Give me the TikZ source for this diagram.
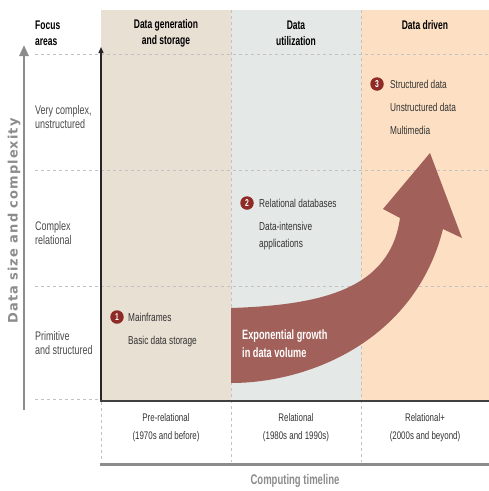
\documentclass[tikz,border=0pt]{standalone}
\usepackage{fontspec}
\setmainfont{Liberation Sans}[FakeStretch=0.72]
\newfontfamily\headfont{Liberation Sans}[FakeStretch=0.68]
\newfontfamily\axisfont{DejaVu Sans}[LetterSpace=8]
\usepackage{tikz}
\usetikzlibrary{arrows.meta}

\definecolor{genbg}{HTML}{E9E0D4}
\definecolor{utilbg}{HTML}{E4E8E6}
\definecolor{drivenbg}{HTML}{FDE0C3}
\definecolor{growth}{HTML}{A1605A}
\definecolor{badge}{HTML}{8E2B27}
\definecolor{inkgray}{HTML}{333333}
\definecolor{labelgray}{HTML}{4A4A4A}
\definecolor{axisgray}{HTML}{8C8C8C}
\definecolor{gridgray}{HTML}{C2C2C2}

\tikzset{
  grid line/.style={gridgray, line width=0.6pt, dash pattern=on 3pt off 3pt},
  header/.style={align=center, font=\headfont\bfseries\fontsize{12.5}{16}\selectfont, text=black},
  focus/.style={anchor=west, align=left, font=\fontsize{12.5}{14.5}\selectfont, text=labelgray},
  item/.style={anchor=west, font=\fontsize{11.5}{17}\selectfont, text=inkgray},
  era/.style={align=center, font=\fontsize{11}{18}\selectfont, text=inkgray},
  badgenum/.style={circle, fill=badge, minimum size=13.5pt, inner sep=0pt, text=white, font=\headfont\bfseries\fontsize{10}{10}\selectfont}
}

\begin{document}
\begin{tikzpicture}[x=1pt, y=-1pt, every node/.style={inner sep=0pt}]
  \useasboundingbox (0,0) rectangle (489,491);

  % era columns
  \fill[genbg] (101,10) rectangle (231,401);
  \fill[utilbg] (231,10) rectangle (361,401);
  \fill[drivenbg] (361,10) rectangle (489,401);

  % dashed guides
  \foreach \y in {54,170,286}
    \draw[grid line] (35,\y) -- (489,\y);
  \draw[grid line] (35,399) -- (99,399);
  \foreach \x in {231,361}
    \draw[grid line] (\x,10) -- (\x,462);
  \draw[grid line] (101,402) -- (101,462);

  % exponential growth arrow
  \fill[growth] (231,308) .. controls (320,305) and (390,290) .. (400,218)
    -- (383,209) -- (430,153) -- (462,238) -- (443,229)
    .. controls (415,340) and (310,383) .. (231,383) -- cycle;
  \node[anchor=west, align=left, text=white, font=\headfont\bfseries\fontsize{13.5}{18}\selectfont] (growthtxt) at (242,344) {Exponential growth\\in data volume};

  % axes
  \draw[black!85, line width=1.3pt, -{Triangle[width=5pt,length=6pt]}] (101,401) -- (101,47);
  \draw[black!75, line width=2pt] (100,401) -- (489,401);
  \draw[axisgray, line width=3pt] (100,464) -- (489,464);
  \draw[axisgray, line width=2.5pt, -{Triangle[width=9pt,length=11pt]}] (24,410) -- (24,45);
  \node[rotate=90, text=axisgray, font=\axisfont\bfseries\fontsize{13}{13}\selectfont] (ylabel) at (14,221) {Data size and complexity};
  \node[text=axisgray, font=\headfont\bfseries\fontsize{14}{14}\selectfont] (xlabel) at (295,481) {Computing timeline};

  % headers
  \node[anchor=west, align=left, font=\headfont\bfseries\fontsize{12.5}{16}\selectfont] (focus) at (35,33) {Focus\\areas};
  \node[header] (hgen) at (166,33) {Data generation\\and storage};
  \node[header] (hutil) at (296,33) {Data\\utilization};
  \node[header] (hdriven) at (425,25) {Data driven};

  % focus areas
  \node[focus] (fhigh) at (35,117) {Very complex,\\unstructured};
  \node[focus] (fmid) at (35,233) {Complex\\relational};
  \node[focus] (flow) at (35,343) {Primitive\\and structured};

  % eras
  \node[era] (era1) at (166,428) {Pre-relational\\(1970s and before)};
  \node[era] (era2) at (296,428) {Relational\\(1980s and 1990s)};
  \node[era] (era3) at (425,428) {Relational+\\(2000s and beyond)};

  % stage 1
  \node[badgenum] (b1) at (117,317) {1};
  \node[item] (mainframes) at (128,317) {Mainframes};
  \node[item] (storage) at (128,342) {Basic data storage};

  % stage 2
  \node[badgenum] (b2) at (247,203) {2};
  \node[item] (reldb) at (259,203) {Relational databases};
  \node[item, align=left] (intensive) at (259,236) {Data-intensive\\applications};

  % stage 3
  \node[badgenum] (b3) at (377,84) {3};
  \node[item] (structured) at (390,84) {Structured data};
  \node[item] (unstructured) at (390,107) {Unstructured data};
  \node[item] (multimedia) at (390,130) {Multimedia};
\end{tikzpicture}
\end{document}
